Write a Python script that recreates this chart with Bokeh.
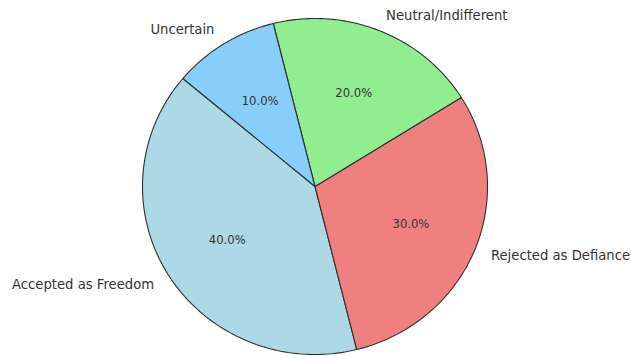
import numpy as np
from bokeh.plotting import figure
from bokeh.models import ColumnDataSource, Range1d
from bokeh.embed import file_html
from bokeh.resources import INLINE
from bokeh.core.properties import value

categories = ["Accepted as Freedom", "Rejected as Defiance", "Neutral/Indifferent", "Uncertain"]
shares = [40, 30, 20, 10]
colors = ["#ADD8E6", "#F08080", "#90EE90", "#87CEFA"]
start_angle_deg = 140

W, H = 631, 356
cx_px, cy_px = 314.5, 186.0
rx_px, ry_px = 172.5, 168.0

p = figure(width=W, height=H, output_backend="svg", toolbar_location=None,
           x_range=Range1d(-cx_px / rx_px, (W - cx_px) / rx_px),
           y_range=Range1d((cy_px - H) / ry_px, cy_px / ry_px),
           min_border=0)
p.axis.visible = False
p.grid.visible = False
p.outline_line_color = None
p.background_fill_color = "white"
p.border_fill_color = "white"

total = float(sum(shares))
xs, ys = [], []
lx, ly, lalign = [], [], []
px, py, ptxt = [], [], []
a0 = np.deg2rad(start_angle_deg)
for s in shares:
    span = 2 * np.pi * s / total
    t = np.linspace(a0, a0 + span, 120)
    xs.append([0.0] + list(np.cos(t)) + [0.0])
    ys.append([0.0] + list(np.sin(t)) + [0.0])
    mid = a0 + span / 2
    lx.append(1.1 * np.cos(mid))
    ly.append(1.1 * np.sin(mid))
    lalign.append("left" if np.cos(mid) >= 0 else "right")
    px.append(0.6 * np.cos(mid))
    py.append(0.6 * np.sin(mid))
    ptxt.append(f"{100 * s / total:.1f}%")
    a0 += span

src = ColumnDataSource(dict(xs=xs, ys=ys, color=colors))
p.patches("xs", "ys", source=src, fill_color="color", line_color="#303030", line_width=1.1)

lsrc = ColumnDataSource(dict(x=lx, y=ly, t=categories, align=lalign))
p.text("x", "y", text="t", source=lsrc, text_align="align", text_baseline="middle",
       text_font=value("DejaVu Sans"), text_font_size="13.2px", text_color="#333333")

psrc = ColumnDataSource(dict(x=px, y=py, t=ptxt))
p.text("x", "y", text="t", source=psrc, text_align="center", text_baseline="middle",
       text_font=value("DejaVu Sans"), text_font_size="11.6px", text_color="#333333")

open("out.html", "w").write(file_html(p, INLINE))
